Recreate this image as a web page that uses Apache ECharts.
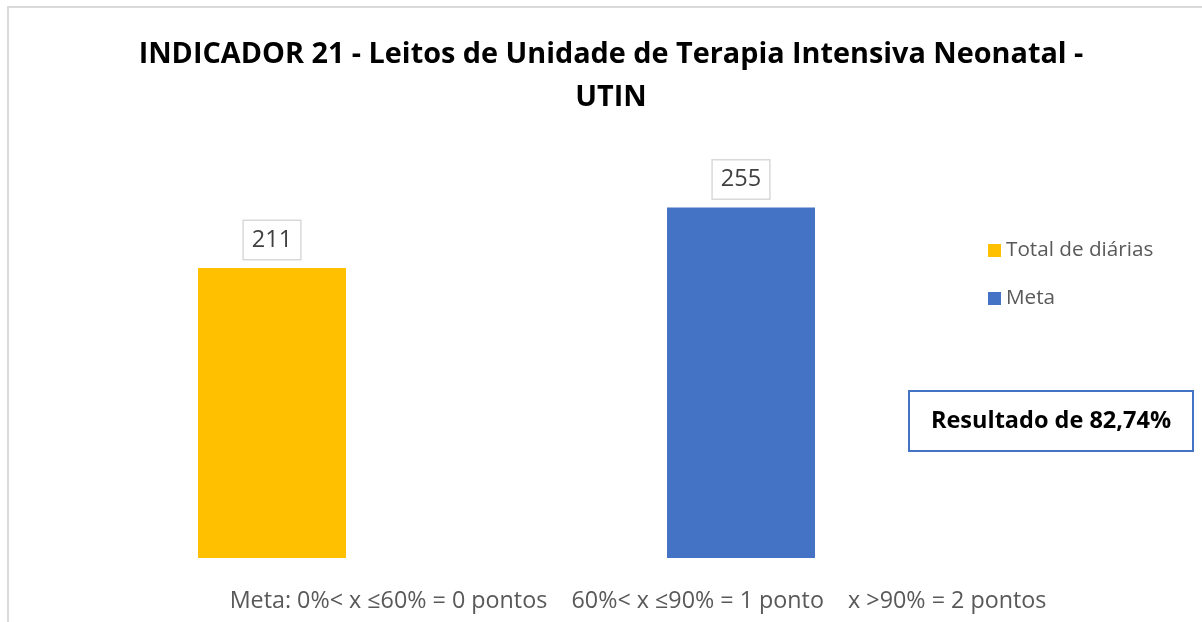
<!DOCTYPE html>
<html><head><meta charset="utf-8">
<script src="https://cdn.jsdelivr.net/npm/echarts@6/dist/echarts.min.js"></script>
<style>html,body{margin:0;padding:0;background:#fff}#c{width:1202px;height:622px}</style>
</head><body><div id="c"></div>
<script>
const categories = ['Total de diárias', 'Meta'];
const values = [211, 255];
const colors = ['#FFC000', '#4472C4'];
const titleText = 'INDICADOR 21 - Leitos de Unidade de Terapia Intensiva Neonatal -\nUTIN';
const resultText = 'Resultado de 82,74%';
const footerText = 'Meta: 0%< x ≤60% = 0 pontos    60%< x ≤90% = 1 ponto    x >90% = 2 pontos';
const FONT = '"Open Sans", "Noto Sans", sans-serif';

const chart = echarts.init(document.getElementById('c'));
chart.setOption({
  animation: false,
  backgroundColor: '#fff',
  title: {
    text: titleText, left: 606, top: 28, textAlign: 'center',
    textStyle: {fontFamily: FONT, fontWeight: 'bold', fontSize: 28.8, color: '#000', lineHeight: 43}
  },
  legend: {
    orient: 'vertical', left: 983, top: 233, itemWidth: 13, itemHeight: 13, itemGap: 23,
    icon: 'rect',
    textStyle: {fontFamily: FONT, fontSize: 20.7, color: '#595959', lineHeight: 25},
    data: categories
  },
  grid: {left: 37.5, width: 938, top: 145.5, height: 412.5},
  xAxis: {type: 'category', data: categories, show: false},
  yAxis: {type: 'value', min: 0, max: 300, show: false},
  series: categories.map((name, i) => ({
    name, type: 'bar', barWidth: 148, barGap: '-100%',
    data: values.map((v, j) => j === i ? v : null),
    itemStyle: {color: colors[i]},
    label: {
      show: true, position: 'top', distance: 9,
      fontFamily: FONT, fontSize: 23.5, color: '#404040', lineHeight: 30,
      borderColor: '#D9D9D9', borderWidth: 1.5, padding: [4, 8, 4, 8], backgroundColor: '#fff'
    }
  })),
  graphic: [
    {type: 'rect', shape: {x: 8, y: 7, width: 1300, height: 700}, style: {fill: null, stroke: '#D9D9D9', lineWidth: 2}, silent: true, z: -1},
    {type: 'rect', shape: {x: 909, y: 391, width: 284, height: 60}, style: {fill: '#fff', stroke: '#4472C4', lineWidth: 2}},
    {type: 'text', x: 1051, y: 421, style: {text: resultText, fontFamily: FONT, fontWeight: 'bold', fontSize: 23.5, fill: '#000', align: 'center', verticalAlign: 'middle'}},
    {type: 'text', x: 638, y: 601, style: {text: footerText, fontFamily: FONT, fontSize: 23.3, fill: '#595959', align: 'center', verticalAlign: 'middle'}}
  ]
});
</script></body></html>
